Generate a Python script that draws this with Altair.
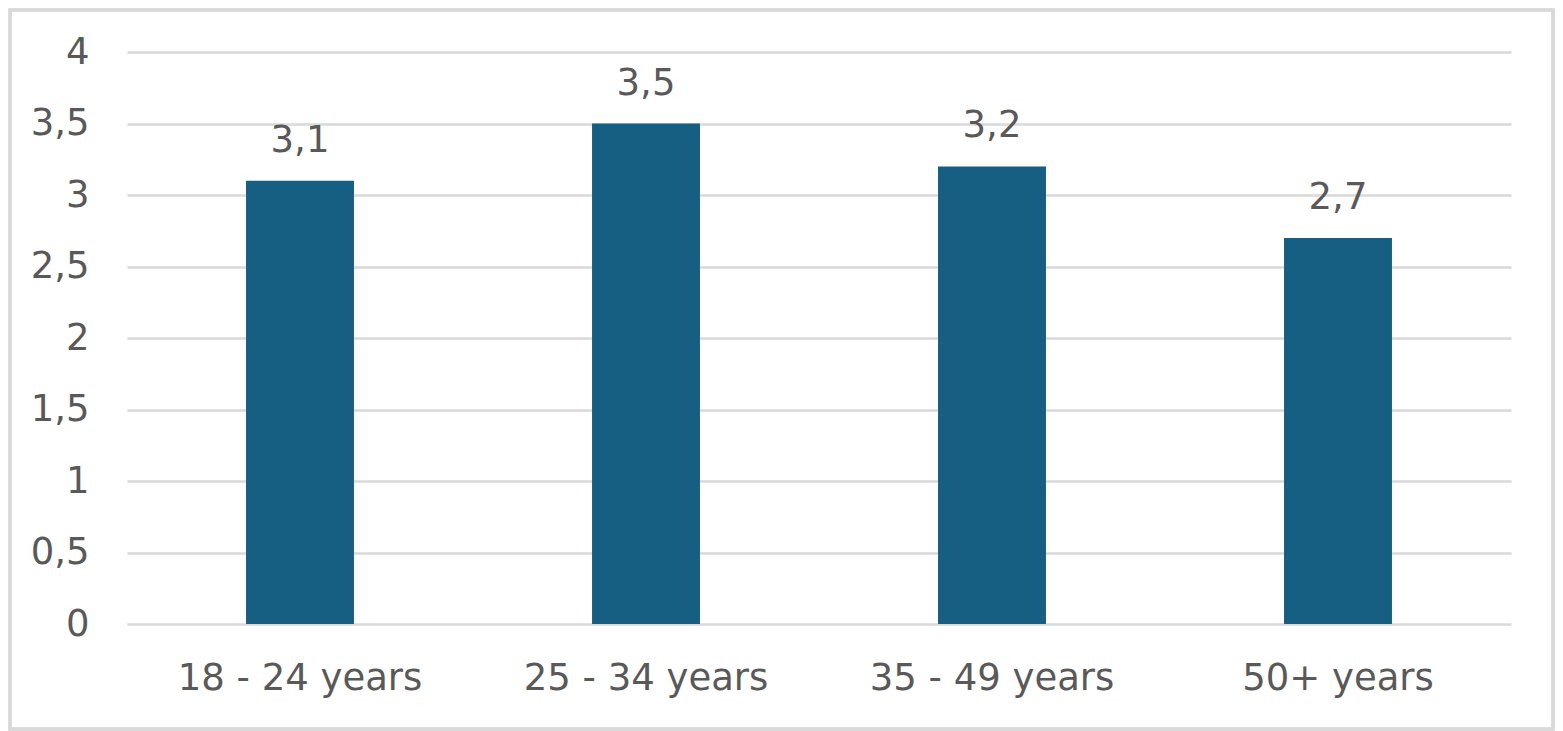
import altair as alt
import pandas as pd

categories = ["18 - 24 years", "25 - 34 years", "35 - 49 years", "50+ years"]
values = [3.1, 3.5, 3.2, 2.7]
y_ticks = [0, 0.5, 1, 1.5, 2, 2.5, 3, 3.5, 4]

df = pd.DataFrame({"cat": categories, "val": values})
df["lab"] = [f"{v:.1f}".replace(".", ",") for v in values]

FONT = "DejaVu Sans"
GRAY = "#595959"
BAR = "#175F82"

x = alt.X("cat:N", sort=categories, title=None,
          scale=alt.Scale(paddingInner=0.688, paddingOuter=0.344),
          axis=alt.Axis(labelAngle=0, domain=False, ticks=False, labelPadding=36,
                        labelFontSize=37, labelColor=GRAY, labelFont=FONT, grid=False,
                        labelLimit=0))
y = alt.Y("val:Q", title=None,
          scale=alt.Scale(domain=[0, 4], nice=False),
          axis=alt.Axis(values=y_ticks, domain=False, ticks=False, labelPadding=38,
                        labelFontSize=37, labelColor=GRAY, labelFont=FONT,
                        gridColor="#d9d9d9", gridWidth=2.5,
                        labelExpr="replace(format(datum.value, '~g'), '.', ',')"))

W, H = 1384, 572
PL, PT, PR, PB = 119, 44, 44, 107

border = alt.Chart(df).mark_rect(fill=None, stroke="#d9d9d9", strokeWidth=3).encode(
    x=alt.value(-PL + 2), x2=alt.value(W + PR - 2),
    y=alt.value(-PT + 2), y2=alt.value(H + PB - 2))

bars = alt.Chart(df).mark_bar(color=BAR).encode(x=x, y=y)
text = alt.Chart(df).mark_text(baseline="alphabetic", dy=-29, fontSize=37,
                               color=GRAY, font=FONT).encode(
    x=alt.X("cat:N", sort=categories), y="val:Q", text="lab:N")

chart = alt.layer(bars, text, border).properties(
    width=W, height=H,
    background="white",
    autosize=alt.AutoSizeParams(type="none"),
    padding={"left": PL, "top": PT, "right": PR, "bottom": PB},
).configure_view(stroke=None)

chart.save("out.html", embed_options={"renderer": "svg", "actions": False})
